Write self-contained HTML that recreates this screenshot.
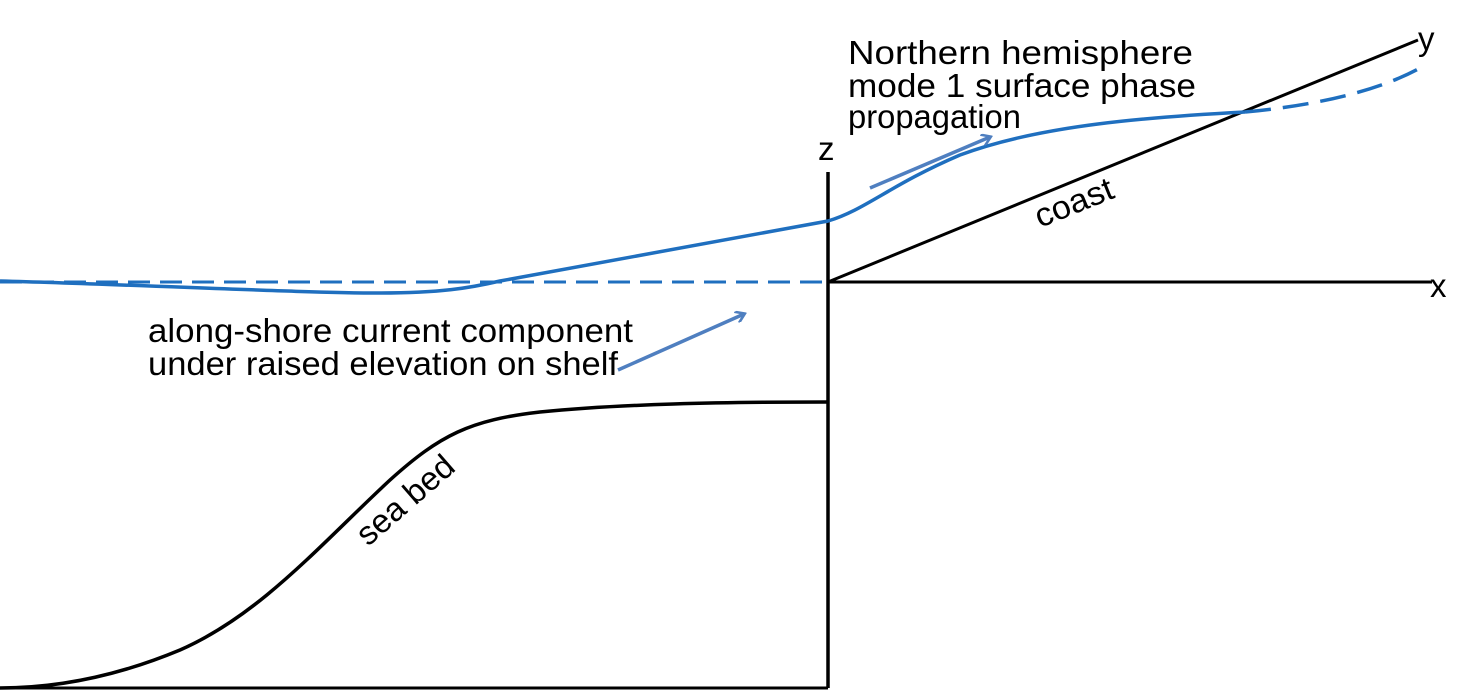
<!DOCTYPE html>
<html><head><meta charset="utf-8"><style>html,body{margin:0;padding:0;background:#fff;}svg{display:block}</style></head>
<body>
<svg width="1471" height="691" viewBox="0 0 1471 691" xmlns="http://www.w3.org/2000/svg" font-family="'Liberation Sans', sans-serif">
<defs>
<marker id="ah" markerWidth="12" markerHeight="12" refX="9" refY="6" orient="auto" markerUnits="userSpaceOnUse" viewBox="0 0 12 12">
<path d="M1,0 L10,6 L1,12" fill="none" stroke="#4f7fc0" stroke-width="2.6"/>
</marker>
</defs>
<line x1="828" y1="172" x2="828" y2="688" stroke="#000" stroke-width="3.5"/>
<line x1="828" y1="282" x2="1432" y2="282" stroke="#000" stroke-width="3"/>
<line x1="828" y1="282" x2="1418" y2="40" stroke="#000" stroke-width="3"/>
<line x1="0" y1="688" x2="828" y2="688" stroke="#000" stroke-width="3"/>
<path d="M0,688 C60,688 120,675 180,650 C260,615 320,545 390,480 C440,435 470,420 540,412 C620,404 720,402 828,402" fill="none" stroke="#000" stroke-width="3.5"/>
<line x1="0" y1="282" x2="828" y2="282" stroke="#1f6fbf" stroke-width="3" stroke-dasharray="22,10"/>
<path d="M0,281 C150,285 300,293 380,293 C440,293 470,288 500,281 L828,221 C865,210 890,185 960,155 C1040,125 1150,117 1245,112" fill="none" stroke="#1f6fbf" stroke-width="3.5"/>
<path d="M1245,112 C1320,105 1380,90 1420,68" fill="none" stroke="#1f6fbf" stroke-width="3.5" stroke-dasharray="26,12"/>
<line x1="870" y1="188" x2="990" y2="137" stroke="#4f7fc0" stroke-width="3.5" marker-end="url(#ah)"/>
<line x1="618" y1="370" x2="744" y2="314" stroke="#4f7fc0" stroke-width="3.5" marker-end="url(#ah)"/>
<g font-size="33" fill="#000">
<text x="848" y="64" textLength="345" lengthAdjust="spacingAndGlyphs">Northern hemisphere</text>
<text x="848" y="97" textLength="348" lengthAdjust="spacingAndGlyphs">mode 1 surface phase</text>
<text x="848" y="128" textLength="173" lengthAdjust="spacingAndGlyphs">propagation</text>
<text x="148" y="342" textLength="485" lengthAdjust="spacingAndGlyphs">along-shore current component</text>
<text x="148" y="375" textLength="470" lengthAdjust="spacingAndGlyphs">under raised elevation on shelf</text>
<text x="818" y="160">z</text>
<text x="1430" y="297">x</text>
<text x="1418" y="50">y</text>
<text transform="translate(1040,228) rotate(-22)" textLength="82" lengthAdjust="spacingAndGlyphs">coast</text>
<text transform="translate(368,547) rotate(-41)" textLength="118" lengthAdjust="spacingAndGlyphs">sea bed</text>
</g>
</svg>
</body></html>
